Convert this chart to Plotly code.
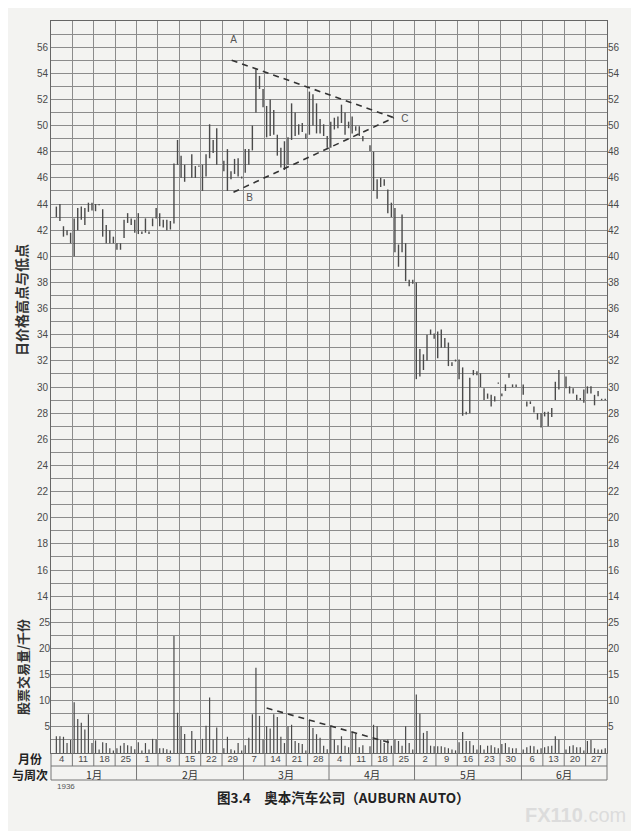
import plotly.graph_objects as go

# ---------------- data ----------------
week_labels = ["4", "11", "18", "25", "1", "8", "15", "22", "29", "7", "14", "21", "28",
               "4", "11", "18", "25", "2", "9", "16", "23", "30", "6", "13", "20", "27"]
month_labels = ["1月", "2月", "3月", "4月", "5月", "6月"]
weeks_per_month = [4, 5, 4, 4, 5, 4]
days_per_week = 6

price_ticks = [14, 16, 18, 20, 22, 24, 26, 28, 30, 32, 34, 36, 38, 40, 42, 44, 46, 48, 50, 52, 54, 56]
volume_ticks = [5, 10, 15, 20, 25]

# daily high / low, 6 trading days per week (None = no trading)
high = [
    None, 43.8, 44.0, 42.3, 42.0, 41.8,        # Jan 4
    42.9, 43.7, 43.8, 43.7, 44.1, 44.1,        # Jan 11
    44.0, 44.0, 43.6, 42.4, 42.0, 41.5,        # Jan 18
    41.0, 41.0, 42.8, 43.3, 42.9, 42.8,        # Jan 25
    43.3, 41.9, 42.9, 41.9, 42.9, 43.7,        # Feb 1
    43.3, 42.8, 42.8, 42.7, 47.1, 48.9,        # Feb 8
    47.7, 47.0, None, 47.8, 46.9, 46.95,       # Feb 15
    47.0, 47.8, 50.1, 48.9, 49.8, None,        # Feb 22
    47.3, 48.2, 46.5, 47.45, 47.5, 46.1,       # Feb 29
    48.2, 48.2, 50.0, 54.3, 53.8, 52.8,        # Mar 7
    51.5, 52.0, 51.2, 49.3, 48.3, 48.8,        # Mar 14
    49.1, 51.7, 51.0, 50.1, 50.2, 49.4,        # Mar 21
    52.6, 52.4, 51.7, 50.5, 50.1, 49.2,        # Mar 28
    50.3, 50.6, 50.7, 51.6, 51.0, 50.3,        # Apr 4
    50.7, 49.95, 49.95, 49.2, None, 48.5,      # Apr 11
    48.0, 45.9, 46.0, 45.9, 45.1, 44.1,        # Apr 18
    43.7, 40.9, 43.2, 41.0, 38.2, 38.2,        # Apr 25
    38.0, 32.9, 32.5, 34.0, 34.4, 34.1,        # May 2
    34.25, 34.4, 33.75, 33.4, 31.9, 32.1,      # May 9
    32.1, 31.5, 28.1, 30.7, 31.3, 31.2,        # May 16
    31.05, 29.9, 29.5, 29.4, 29.3, 30.35,      # May 23
    29.5, 30.2, 31.05, 30.2, 30.2, None,       # May 30
    30.2, 28.9, 28.9, 28.5, 28.0, 28.0,        # Jun 6
    28.1, 28.1, 28.4, 30.4, 31.3, None,        # Jun 13
    30.8, 30.05, 29.9, 29.4, 29.15, 29.8,      # Jun 20
    30.05, 30.05, 29.4, 29.7, 29.1, 29.1,      # Jun 27
]
low = [
    None, 43.0, 42.7, 41.5, 41.6, 41.0,
    40.0, 42.0, 42.8, 42.4, 43.4, 43.5,
    43.45, 43.9, 41.5, 41.0, 41.0, 41.0,
    40.5, 40.5, 41.4, 42.55, 42.4, 41.8,
    41.7, 41.7, 41.8, 41.7, 42.3, 42.9,
    42.3, 42.2, 42.0, 42.05, 42.5, 47.0,
    46.0, 45.7, None, 46.0, 46.0, 46.85,
    45.0, 46.1, 47.5, 47.9, 47.0, None,
    46.5, 45.0, 45.9, 46.3, 46.1, 45.95,
    46.4, 47.0, 48.1, 51.0, 52.8, 51.4,
    49.1, 49.2, 49.3, 47.7, 46.8, 46.6,
    47.0, 48.9, 49.2, 49.3, 49.5, 49.0,
    49.3, 50.0, 49.4, 49.4, 49.2, 48.3,
    48.3, 49.7, 49.8, 50.2, 49.3, 49.8,
    49.4, 49.6, 49.2, 48.8, None, 48.05,
    45.0, 44.4, 45.3, 45.4, 43.3, 43.0,
    40.3, 39.2, 40.3, 38.1, 37.7, 37.9,
    30.6, 30.8, 31.3, 32.0, 34.0, 33.7,
    32.2, 33.0, 33.0, 31.6, 31.6, 31.95,
    30.6, 27.8, 27.9, 28.0, 30.9, 30.9,
    30.0, 29.0, 29.1, 28.5, 28.9, 30.25,
    29.3, 29.7, 30.7, 30.0, 30.0, None,
    29.4, 28.5, 28.7, 28.05, 27.5, 26.9,
    27.75, 27.0, 27.7, 29.0, 29.8, None,
    29.9, 29.5, 29.5, 29.0, 29.0, 28.8,
    29.5, 29.5, 28.6, 29.3, 29.0, 29.0,
]
# daily volume, thousands of shares
volume = [
    None, 3.2, 3.2, 3.1, 1.9, 2.5,
    9.7, 6.5, 5.8, 4.5, 7.4, 1.9,
    2.4, 0.65, 2.05, 1.9, 0.9, 0.5,
    0.9, 1.4, 1.9, 1.5, 1.3, 0.7,
    2.05, 0.5, 1.9, 0.65, 2.7, 2.6,
    0.9, 0.9, 0.7, 0.5, 22.4, 7.7,
    5.1, 3.65, None, 4.2, 2.6, 0.4,
    2.7, 5.2, 10.6, 2.6, 4.9, None,
    0.9, 3.1, 0.7, 0.5, 1.9, 0.5,
    1.5, 2.9, 7.4, 16.3, 7.1, 2.6,
    5.1, 4.7, 7.4, 6.9, 3.1, 1.9,
    5.1, 5.4, 2.3, 1.9, 1.7, 0.5,
    6.3, 4.8, 3.6, 2.9, 1.4, 0.7,
    5.1, 2.6, 1.5, 3.2, 1.4, 1.1,
    4.0, 3.7, 1.1, 1.5, None, 1.3,
    5.4, 5.1, 2.5, 1.9, 2.6, 1.4,
    2.6, 2.3, 1.4, 5.1, 1.9, 0.65,
    11.2, 7.5, 3.85, 4.2, 1.4, 1.3,
    1.3, 1.3, 1.1, 0.9, 0.65, 0.5,
    2.05, 4.0, 2.3, 2.3, 1.5, 0.65,
    1.5, 0.65, 1.4, 1.5, 1.1, 0.9,
    1.7, 1.9, 1.1, 0.9, 0.9, None,
    0.65, 1.1, 1.4, 1.3, 0.65, 0.9,
    1.1, 1.3, 1.4, 3.2, 2.6, None,
    0.65, 1.3, 1.5, 1.1, 1.1, 0.5,
    2.3, 2.5, 0.9, 0.65, 0.65, 0.9,
]

# symmetrical triangle (A-C upper, B-C lower) in (trading-day index, price)
triangle_upper_x = [50.7, 96.2]
triangle_upper_y = [55.0, 50.6]
triangle_lower_x = [51.2, 96.2]
triangle_lower_y = [44.9, 50.6]
triangle_labels = ["A", "B", "C"]
triangle_label_x = [51.2, 55.7, 99.3]
triangle_label_y = [56.5, 44.45, 50.45]
# declining volume line (trading-day index, volume)
volume_trend_x = [60.5, 96.0]
volume_trend_y = [8.6, 1.8]

# ---------------- derived ----------------
n_weeks = len(week_labels)
n_days = n_weeks * days_per_week
day_x = [i + 0.5 for i in range(n_days)]

px, py = [], []
for x, h, l in zip(day_x, high, low):
    if h is None:
        continue
    px += [x, x, None]
    py += [l, h, None]

vx, vy = [], []
for x, v in zip(day_x, volume):
    if v is None:
        continue
    vx += [x, x, None]
    vy += [0, v, None]

BAR = "#4a4a4a"
GRID = "#8c8c8c"
BG = "#f3f3f1"
TXT = "#4a4a4a"
FONT = "Liberation Sans, Arial, Noto Sans CJK SC, sans-serif"
CJK = "Noto Sans CJK SC, sans-serif"

fig = go.Figure()
fig.add_trace(go.Scatter(x=px, y=py, mode="lines", line=dict(color=BAR, width=1.4),
                         hoverinfo="skip", showlegend=False))
fig.add_trace(go.Scatter(x=vx, y=vy, mode="lines", line=dict(color=BAR, width=1.2),
                         yaxis="y2", hoverinfo="skip", showlegend=False))
fig.add_trace(go.Scatter(x=triangle_upper_x, y=triangle_upper_y, mode="lines",
                         line=dict(color="#333", width=1.6, dash="6px,5px"),
                         hoverinfo="skip", showlegend=False))
fig.add_trace(go.Scatter(x=triangle_lower_x, y=triangle_lower_y, mode="lines",
                         line=dict(color="#333", width=1.6, dash="6px,5px"),
                         hoverinfo="skip", showlegend=False))
fig.add_trace(go.Scatter(x=volume_trend_x, y=volume_trend_y, mode="lines", yaxis="y2",
                         line=dict(color="#333", width=1.6, dash="6px,5px"),
                         hoverinfo="skip", showlegend=False))
fig.add_trace(go.Scatter(x=triangle_label_x, y=triangle_label_y, mode="text",
                         text=triangle_labels, textfont=dict(size=10, color="#555", family=FONT),
                         hoverinfo="skip", showlegend=False))

week_centers = [k * days_per_week + days_per_week / 2 for k in range(n_weeks)]

common_y = dict(showline=False, zeroline=False, ticks="", tickfont=dict(size=10, color=TXT, family=FONT))

# the page body has an 8px default margin: the figure is sized/offset to compensate
PAGE_OFF = 8
fig.update_layout(
    width=639 - PAGE_OFF, height=831 - PAGE_OFF,
    margin=dict(l=51 - PAGE_OFF, r=32, t=21 - PAGE_OFF, b=78),
    paper_bgcolor=BG, plot_bgcolor=BG,
    font=dict(family=FONT, color=TXT),
    xaxis=dict(range=[0, n_days], tickmode="array", tickvals=week_centers, ticktext=week_labels,
               ticks="", showgrid=False, zeroline=False, showline=True, mirror=True,
               linecolor="#666", linewidth=1, ticklabelstandoff=-3,
               tickfont=dict(size=9.5, color=TXT, family=FONT),
               minor=dict(tickmode="linear", tick0=0, dtick=days_per_week, showgrid=True,
                          gridcolor=GRID, gridwidth=1)),
    yaxis=dict(range=[2, 58], tickmode="array", tickvals=price_ticks,
               ticktext=[str(t) for t in price_ticks], side="left",
               showgrid=True, gridcolor=GRID, gridwidth=1,
               minor=dict(tickmode="linear", tick0=0, dtick=1, showgrid=True, gridcolor=GRID, gridwidth=1),
               showline=True, mirror=True, linecolor="#666", linewidth=1,
               zeroline=False, ticks="", tickfont=dict(size=10, color=TXT, family=FONT)),
    yaxis3=dict(range=[2, 58], overlaying="y", side="right", tickmode="array", tickvals=price_ticks,
                ticktext=[str(t) for t in price_ticks], showgrid=False, **common_y),
    yaxis2=dict(range=[0, 140], overlaying="y", side="left", tickmode="array", tickvals=volume_ticks,
                ticktext=[str(t) for t in volume_ticks], showgrid=False, **common_y),
    yaxis4=dict(range=[0, 140], overlaying="y", side="right", tickmode="array", tickvals=volume_ticks,
                ticktext=[str(t) for t in volume_ticks], showgrid=False, **common_y),
)
# invisible traces to activate right-side axes
fig.add_trace(go.Scatter(x=[None], y=[None], yaxis="y3", showlegend=False))
fig.add_trace(go.Scatter(x=[None], y=[None], yaxis="y4", showlegend=False))

# ---------------- week / month table below the grid ----------------
PLOT_TOP, PLOT_BOTTOM, PLOT_LEFT, PLOT_RIGHT = 21, 753, 51, 607   # window pixels
plot_h = PLOT_BOTTOM - PLOT_TOP
plot_w = PLOT_RIGHT - PLOT_LEFT

def py_paper(pix):
    return (PLOT_BOTTOM - pix) / plot_h

def px_paper(pix):
    return (pix - PLOT_LEFT) / plot_w

row1 = py_paper(766)
row2 = py_paper(780)
shapes = []
for k in range(n_weeks + 1):
    shapes.append(dict(type="line", xref="paper", yref="paper", x0=k / n_weeks, x1=k / n_weeks,
                       y0=0, y1=row1, line=dict(color="#777", width=1)))
b = 0
bounds = [0]
for m in weeks_per_month:
    b += m
    bounds.append(b)
for wb in bounds:
    shapes.append(dict(type="line", xref="paper", yref="paper", x0=wb / n_weeks, x1=wb / n_weeks,
                       y0=row1, y1=row2, line=dict(color="#777", width=1)))
for yy in (row1, row2):
    shapes.append(dict(type="line", xref="paper", yref="paper", x0=0, x1=1, y0=yy, y1=yy,
                       line=dict(color="#777", width=1)))
fig.update_layout(shapes=shapes)

ann = []
for i, mlab in enumerate(month_labels):
    cx = (bounds[i] + bounds[i + 1]) / 2 / n_weeks
    ann.append(dict(text=mlab, x=cx, y=py_paper(774), xref="paper", yref="paper",
                    xanchor="center", yanchor="middle",
                    showarrow=False, font=dict(size=10.5, color="#333", family=CJK)))
ann.append(dict(text="<b>月份<br>与周次</b>", x=px_paper(30), y=py_paper(767), xref="paper", yref="paper",
                xanchor="center", yanchor="middle", align="center",
                showarrow=False, font=dict(size=12, color="#222", family=CJK)))
ann.append(dict(text="1936", x=px_paper(55), y=py_paper(786), xref="paper", yref="paper",
                xanchor="left", yanchor="middle",
                showarrow=False, font=dict(size=8, color="#555", family=FONT)))
ann.append(dict(text="<b>图3.4</b>　<b>奥本汽车公司（AUBURN AUTO）</b>", x=px_paper(343), y=py_paper(797),
                xref="paper", yref="paper", xanchor="center", yanchor="middle", showarrow=False,
                font=dict(size=13.5, color="#222", family=CJK)))
ann.append(dict(text="<b>日价格高点与低点</b>", x=px_paper(21), y=py_paper(300), xref="paper", yref="paper",
                xanchor="center", yanchor="middle",
                textangle=-90, showarrow=False, font=dict(size=14, color="#333", family=CJK)))
ann.append(dict(text="<b>股票交易量/千份</b>", x=px_paper(22), y=py_paper(667), xref="paper", yref="paper",
                xanchor="center", yanchor="middle",
                textangle=-90, showarrow=False, font=dict(size=13, color="#333", family=CJK)))
ann.append(dict(text="<b>FX110</b>.com", x=px_paper(575), y=py_paper(815), xref="paper", yref="paper",
                xanchor="center", yanchor="middle",
                showarrow=False, font=dict(size=20, color="#dcdcdc", family=FONT)))
fig.update_layout(annotations=ann)

fig.write_html("out.html")
